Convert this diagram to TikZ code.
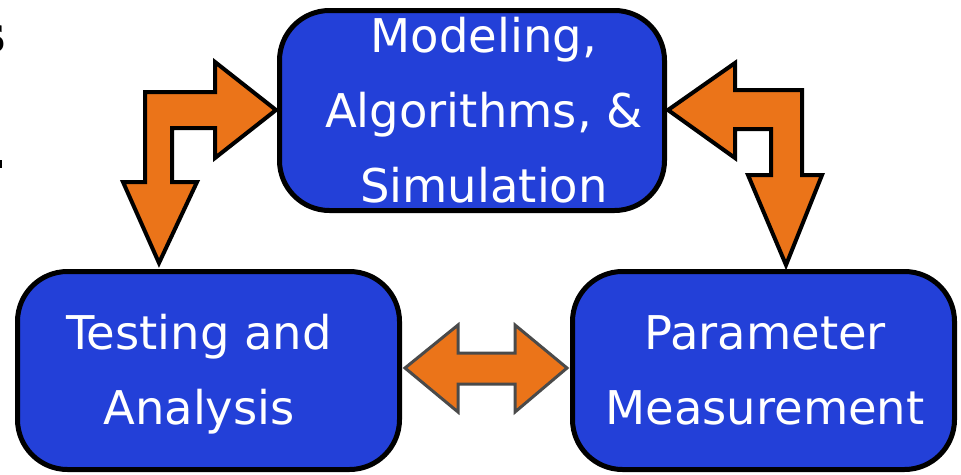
\documentclass[tikz,border=0pt]{standalone}
\usepackage{fontspec}
\setmainfont{DejaVu Sans}
\begin{document}
\begin{tikzpicture}[x=1pt,y=-1pt,
  box/.style={draw=black,line width=5pt,fill=boxblue,rounded corners=50pt,inner sep=0pt},
  boxtext/.style={text=white,align=center,font=\fontsize{46.5}{75}\selectfont,anchor=base,inner sep=0pt},
  bentarrow/.style={draw=black,line width=4pt,fill=arroworange,line join=miter},
  dblarrow/.style={draw=arrowgray,line width=3pt,fill=arroworange,line join=miter}]
\definecolor{boxblue}{RGB}{35,64,216}
\definecolor{arroworange}{RGB}{235,116,25}
\definecolor{arrowgray}{RGB}{74,74,74}
\useasboundingbox (0,0) rectangle (961,474);
\clip (0,0) rectangle (961,474);
% fragments at the left edge
\node[anchor=base east,inner sep=0pt,font=\fontsize{50}{50}\selectfont\bfseries] (frag) at (6,52) {s};
\fill (0,160) rectangle (1.7,168);
% arrows
\draw[bentarrow] (276,110) -- (215,62) -- (215,92) -- (145,92) -- (145,182) -- (123,182) -- (159,263) -- (197,182) -- (172,182) -- (172,128) -- (215,128) -- (215,158) -- cycle;
\draw[bentarrow] (668,110) -- (735,63) -- (735,90) -- (802,90) -- (802,175) -- (822,175) -- (786,265) -- (748,175) -- (771,175) -- (771,129) -- (735,129) -- (735,158) -- cycle;
\draw[dblarrow] (405,368) -- (458,325) -- (458,353) -- (515,353) -- (515,325) -- (567,368) -- (515,412) -- (515,384) -- (458,384) -- (458,412) -- cycle;
% boxes
\node[box,minimum width=385pt,minimum height=200pt] (top) at (472,110.5) {};
\node[box,minimum width=382pt,minimum height=198pt] (left) at (208.5,370.5) {};
\node[box,minimum width=382pt,minimum height=198pt] (right) at (763.5,370.5) {};
\node[boxtext] (toptext) at (484,202) {Modeling,\\Algorithms, \&\\Simulation};
\node[boxtext] (lefttext) at (199,424) {Testing and\\Analysis};
\node[boxtext] (righttext) at (765,424) {Parameter\\Measurement};
\end{tikzpicture}
\end{document}
